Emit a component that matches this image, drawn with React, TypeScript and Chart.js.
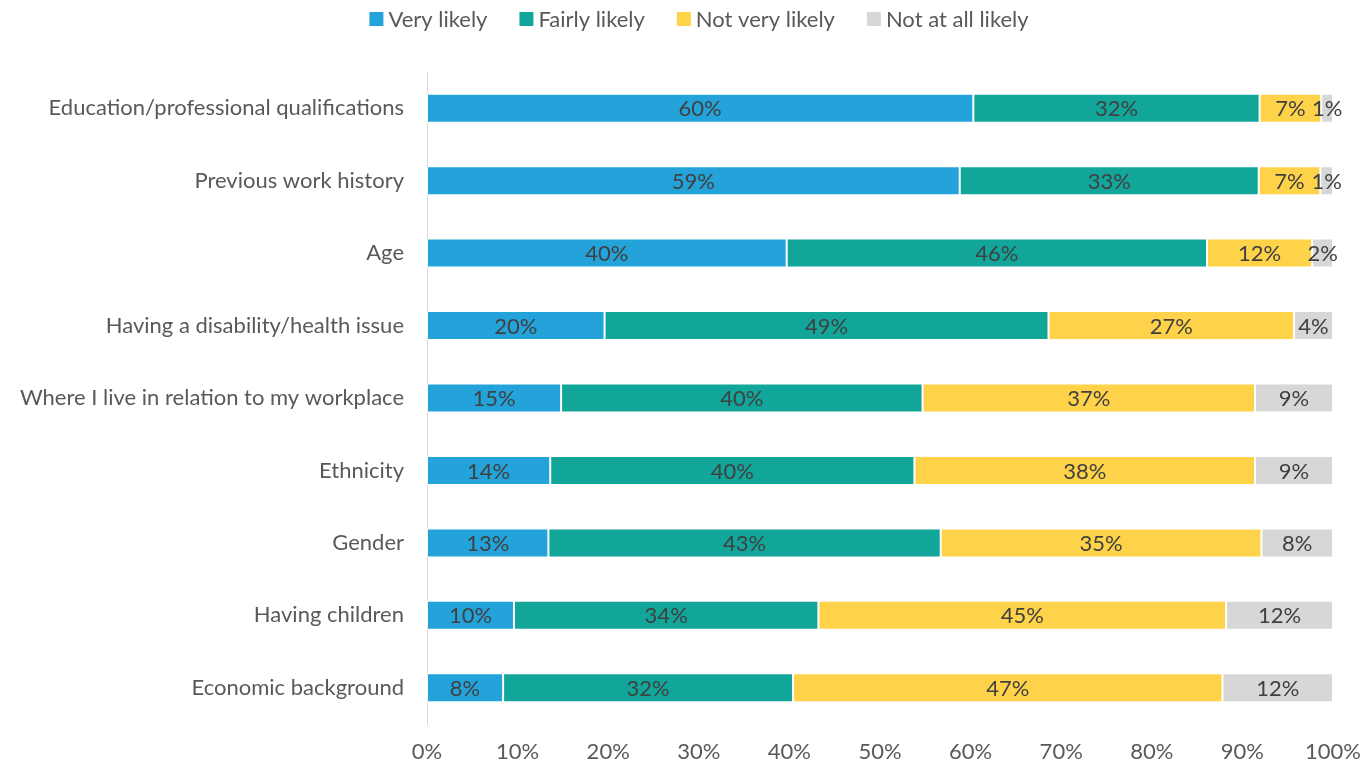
import React, { useEffect, useRef } from "react";
import { Chart, registerables } from "chart.js";

Chart.register(...registerables);

const categories = [
  "Education/professional qualifications",
  "Previous work history",
  "Age",
  "Having a disability/health issue",
  "Where I live in relation to my workplace",
  "Ethnicity",
  "Gender",
  "Having children",
  "Economic background",
];

const seriesNames = ["Very likely", "Fairly likely", "Not very likely", "Not at all likely"];
const seriesColors = ["#23A3DA", "#12A69A", "#FED249", "#D7D7D8"];

const veryLikely = [60.3, 58.8, 39.7, 19.6, 14.8, 13.6, 13.4, 9.6, 8.4];
const fairlyLikely = [31.6, 33.0, 46.4, 49.0, 39.9, 40.2, 43.3, 33.6, 32.0];
const notVeryLikely = [6.8, 6.8, 11.6, 27.1, 36.7, 37.6, 35.4, 45.0, 47.4];
const notAtAllLikely = [1.3, 1.4, 2.3, 4.3, 8.6, 8.6, 7.9, 11.8, 12.2];

const xTicks = [0, 10, 20, 30, 40, 50, 60, 70, 80, 90, 100];

const FONT = "Lato, 'Noto Sans', sans-serif";
const FS = 22;

const valueLabels = {
  id: "valueLabels",
  afterDatasetsDraw(chart: any) {
    const ctx = chart.ctx;
    ctx.save();
    ctx.font = `${FS}px ${FONT}`;
    ctx.fillStyle = "#404040";
    ctx.textAlign = "center";
    ctx.textBaseline = "middle";
    chart.data.datasets.forEach((ds: any, di: number) => {
      const meta = chart.getDatasetMeta(di);
      meta.data.forEach((el: any, i: number) => {
        const v = ds.data[i];
        const cx = (el.x + el.base) / 2;
        ctx.fillText(`${Math.round(v)}%`, cx, el.y + 1);
      });
    });
    ctx.restore();
  },
};

const topLegend = {
  id: "topLegend",
  afterDraw(chart: any) {
    const ctx = chart.ctx;
    ctx.save();
    ctx.font = `${FS}px ${FONT}`;
    ctx.textBaseline = "middle";
    ctx.textAlign = "left";
    const box = 14;
    const gapBox = 5;
    const gapItem = 32;
    const items = chart.data.datasets.map((ds: any) => ({
      text: ds.label,
      color: ds.backgroundColor,
      w: ctx.measureText(ds.label).width,
    }));
    const total =
      items.reduce((s: number, it: any) => s + box + gapBox + it.w, 0) + gapItem * (items.length - 1);
    let x = 699 - total / 2;
    const cy = 19;
    items.forEach((it: any) => {
      ctx.fillStyle = it.color;
      ctx.fillRect(x, cy - box / 2, box, box);
      x += box + gapBox;
      ctx.fillStyle = "#595959";
      ctx.fillText(it.text, x, cy + 1);
      x += it.w + gapItem;
    });
    ctx.restore();
  },
};

export default function App() {
  const ref = useRef<HTMLCanvasElement>(null);
  useEffect(() => {
    if (!ref.current) return;
    const data = [veryLikely, fairlyLikely, notVeryLikely, notAtAllLikely];
    const chart = new Chart(ref.current, {
      type: "bar",
      data: {
        labels: categories,
        datasets: seriesNames.map((name, i) => ({
          label: name,
          data: data[i],
          backgroundColor: seriesColors[i],
          borderColor: "rgba(255,255,255,0.7)",
          borderWidth: 1,
          borderSkipped: false,
          categoryPercentage: 0.4,
          barPercentage: 1,
        })),
      },
      options: {
        indexAxis: "y",
        responsive: false,
        animation: false,
        layout: { padding: { top: 72, right: 32, left: 0, bottom: 0 } },
        plugins: {
          legend: { display: false },
          tooltip: { enabled: false },
        },
        scales: {
          x: {
            stacked: true,
            min: 0,
            max: 100,
            afterBuildTicks: (scale: any) => {
              scale.ticks = xTicks.map((v) => ({ value: v }));
            },
            afterFit: (scale: any) => {
              scale.height = 41;
              scale.paddingLeft = 0;
              scale.paddingRight = 0;
            },
            grid: { display: false, drawTicks: false },
            border: { display: false },
            ticks: {
              padding: 15,
              color: "#595959",
              font: { family: FONT, size: FS },
              callback: (v: any) => `${v}%`,
              maxRotation: 0,
            },
          },
          y: {
            stacked: true,
            afterFit: (scale: any) => {
              scale.width = 427;
            },
            grid: { display: false, drawTicks: false },
            border: { display: true, color: "#D9D9D9", width: 1 },
            ticks: {
              padding: 23,
              color: "#595959",
              font: { family: FONT, size: FS },
            },
          },
        },
      },
      plugins: [valueLabels, topLegend],
    });
    return () => chart.destroy();
  }, []);
  return (
    <div style={{ position: "fixed", left: 0, top: 0, width: 1365, height: 765, background: "#fff" }}>
      <canvas ref={ref} width={1365} height={765} style={{ display: "block" }} />
    </div>
  );
}
